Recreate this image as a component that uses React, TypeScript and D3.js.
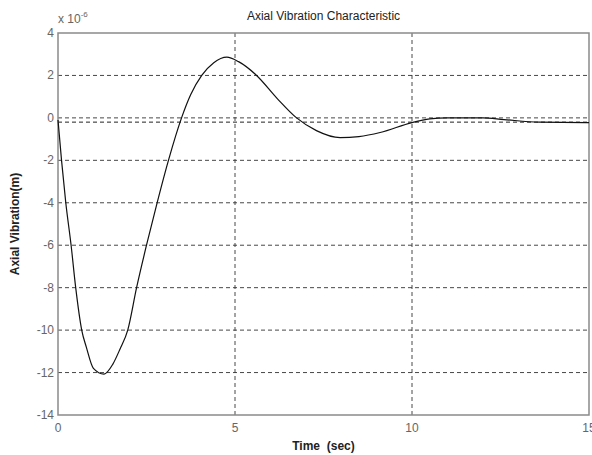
import React from 'react';
import * as d3 from 'd3';

const timeValues = [0, 0.1, 0.22, 0.37, 0.5, 0.67, 0.8, 1.0, 1.3, 1.55, 1.75, 1.97, 2.22, 2.5, 2.8, 3.12, 3.49, 3.75, 4.06, 4.4, 4.77, 5.1, 5.61, 6.2, 6.74, 7.3, 7.97, 8.5, 9.1, 10, 10.5, 11, 12, 12.6, 13.6, 15];
const vibration = [-0.1, -2, -4, -6, -8, -10, -10.8, -11.8, -12.07, -11.6, -10.9, -10, -8, -6, -4, -2, 0, 1.1, 2, 2.6, 2.86, 2.65, 2, 0.9, 0, -0.6, -0.93, -0.88, -0.69, -0.22, -0.05, 0, 0, -0.08, -0.2, -0.22];
const steadyValue = -0.2;
const xTicks = [0, 5, 10, 15];
const yTicks = [4, 2, 0, -2, -4, -6, -8, -10, -12, -14];

const width = 592;
const height = 455;
const margin = { left: 58, right: 1, top: 33, bottom: 40 };

const App = () => {
  const x = d3.scaleLinear().domain([0, 15]).range([margin.left, width - margin.right - 2]);
  const y = d3.scaleLinear().domain([-14, 4]).range([height - margin.bottom, margin.top]);

  const line = d3.line<number>()
    .x((_, i) => x(timeValues[i]))
    .y(d => y(d))
    .curve(d3.curveMonotoneX);

  const x0 = x(0);
  const x1 = x(15);
  const yTop = y(4);
  const yBot = y(-14);
  const font = 'Arial, "Liberation Sans", sans-serif';

  return (
    <svg width={width} height={height} style={{ position: 'absolute', left: 0, top: 0, background: '#fff' }}>
      {/* grid */}
      {yTicks.filter(t => t !== 4 && t !== -14).map(t => (
        <line key={'gy' + t} x1={x0} x2={x1} y1={y(t)} y2={y(t)} stroke="#333" strokeWidth={0.9} strokeDasharray="4,3" />
      ))}
      {xTicks.filter(t => t !== 0 && t !== 15).map(t => (
        <line key={'gx' + t} x1={x(t)} x2={x(t)} y1={yTop} y2={yBot} stroke="#333" strokeWidth={0.9} strokeDasharray="4,3" />
      ))}
      <line x1={x0} x2={x1} y1={y(steadyValue)} y2={y(steadyValue)} stroke="#222" strokeWidth={1} strokeDasharray="4,3" />

      {/* box */}
      <rect x={x0} y={yTop} width={x1 - x0} height={yBot - yTop} fill="none" stroke="#8a8a8a" strokeWidth={1.5} />

      {/* curve */}
      <path d={line(vibration) || ''} fill="none" stroke="#111" strokeWidth={1.2} />

      {/* tick labels */}
      {yTicks.map(t => (
        <text key={'ty' + t} x={x0 - 4} y={y(t) + 4} textAnchor="end" fontFamily={font} fontSize={12} fill="#666">{t}</text>
      ))}
      {xTicks.map(t => (
        <text key={'tx' + t} x={x(t)} y={yBot + 17} textAnchor="middle" fontFamily={font} fontSize={12} fill="#666">{t}</text>
      ))}
      <text x={x0} y={yTop - 10} fontFamily={font} fontSize={12} fill="#666">
        x 10<tspan dy={-6} fontSize={8}>-6</tspan>
      </text>

      {/* titles */}
      <text x={(x0 + x1) / 2} y={20} textAnchor="middle" fontFamily={font} fontSize={12} fill="#222">Axial Vibration Characteristic</text>
      <text x={(x0 + x1) / 2} y={yBot + 35} textAnchor="middle" fontFamily={font} fontSize={12} fontWeight="bold" fill="#222" style={{ whiteSpace: 'pre' }}>Time  (sec)</text>
      <text transform={`translate(19, ${(yTop + yBot) / 2}) rotate(-90)`} textAnchor="middle" fontFamily={font} fontSize={12} fontWeight="bold" fill="#222">Axial Vibration(m)</text>
    </svg>
  );
};

export default App;
